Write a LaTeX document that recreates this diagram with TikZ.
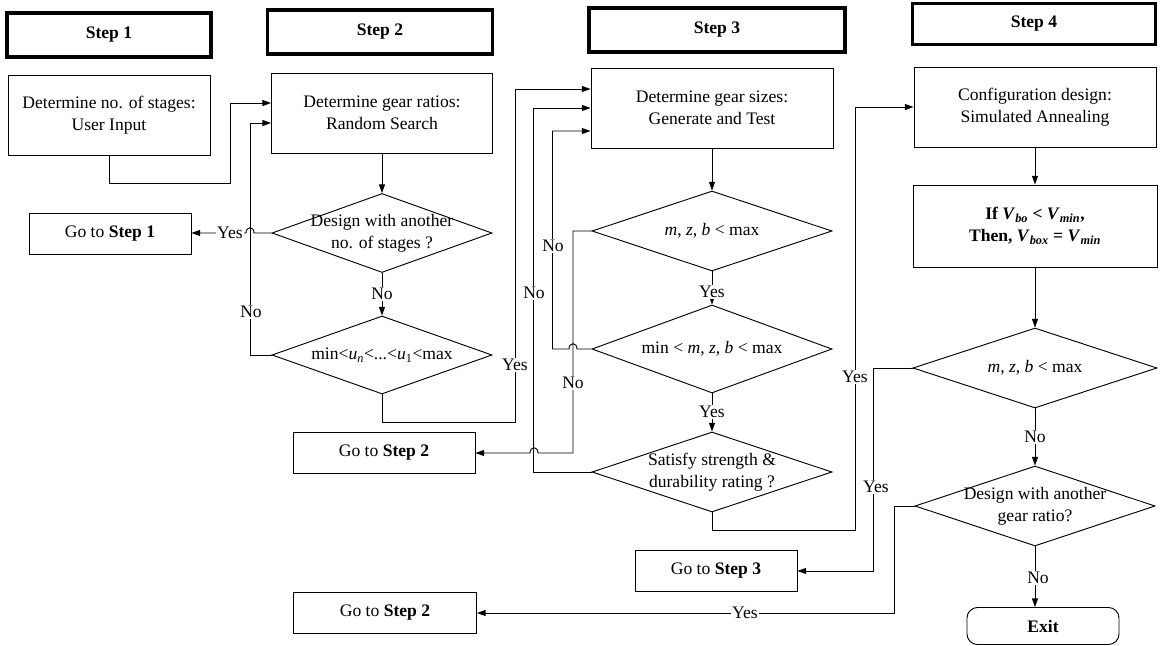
\documentclass[tikz,border=0pt]{standalone}
\usepackage{fontspec}
\setmainfont{Liberation Serif}
\usetikzlibrary{shapes.geometric,arrows.meta,calc}
\begin{document}
\begin{tikzpicture}[x=0.03cm, y=-0.03cm, font=\fontsize{15}{19}\selectfont,
  stepbox/.style={draw, line width=3pt, minimum height=1.33cm, font=\fontsize{15}{19}\selectfont\bfseries},
  procbox/.style={draw, line width=0.8pt, minimum height=2.4cm, align=center},
  gotobox/.style={draw, line width=0.8pt, minimum height=1.23cm},
  decision/.style={diamond, draw, line width=0.8pt, aspect=3, inner xsep=-2cm, inner ysep=0pt, align=center},
  lbl/.style={fill=white, inner sep=1pt},
  arr/.style={line width=0.8pt, -{Triangle[length=2.6mm,width=1.8mm]}}]
\useasboundingbox (0,0) rectangle (1163,646);
% headers
\node[stepbox, minimum width=6.12cm] (s1) at (109,35) {Step 1};
\node[stepbox, minimum width=6.75cm] (s2) at (380,32) {Step 2};
\node[stepbox, minimum width=7.68cm] (s3) at (717,30) {Step 3};
\node[stepbox, minimum width=7.29cm, minimum height=1.23cm] (s4) at (1034,24) {Step 4};
% step 1
\node[procbox, minimum width=6.06cm] (b1) at (109,115) {Determine no. of stages:\\User Input};
\node[gotobox, minimum width=4.86cm] (g1) at (110,234) {Go to \textbf{Step 1}};
% step 2
\node[procbox, minimum width=6.63cm] (b2) at (382,113) {Determine gear ratios:\\Random Search};
\node[decision, minimum width=6.6cm, minimum height=2.37cm] (d1) at (382,233) {Design with another\\no. of stages ?};
\node[decision, minimum width=6.6cm, minimum height=2.34cm] (d2) at (382,355) {min<\textit{u}\textsubscript{\textit{n}}<...<\textit{u}\textsubscript{1}<max};
\node[gotobox, minimum width=5.46cm] (g2) at (384,453) {Go to \textbf{Step 2}};
% step 3
\node[procbox, minimum width=7.26cm] (b3) at (712,108) {Determine gear sizes:\\Generate and Test};
\node[decision, minimum width=7.2cm, minimum height=2.4cm] (d3) at (712,231) {\textit{m}, \textit{z}, \textit{b} < max};
\node[decision, minimum width=7.2cm, minimum height=2.64cm] (d4) at (712,349) {min < \textit{m}, \textit{z}, \textit{b} < max};
\node[decision, minimum width=7.2cm, minimum height=2.4cm] (d5) at (712,472) {Satisfy strength \&\\durability rating ?};
\node[gotobox, minimum width=4.86cm] (g3) at (716,571) {Go to \textbf{Step 3}};
\node[gotobox, minimum width=5.49cm] (g4) at (385,613) {Go to \textbf{Step 2}};
% step 4
\node[procbox, minimum width=7.26cm] (b4) at (1035,107) {Configuration design:\\Simulated Annealing};
\node[procbox, minimum width=7.32cm, minimum height=2.46cm, font=\fontsize{15}{19}\selectfont\bfseries] (b5) at (1035,226)
  {If \textit{V}\textsubscript{\textit{bo}} < \textit{V}\textsubscript{\textit{min}},\\Then, \textit{V}\textsubscript{\textit{box}} = \textit{V}\textsubscript{\textit{min}}};
\node[decision, minimum width=7.32cm, minimum height=2.4cm] (d6) at (1035,368) {\textit{m}, \textit{z}, \textit{b} < max};
\node[decision, minimum width=7.2cm, minimum height=2.4cm] (d7) at (1035,506) {Design with another\\gear ratio?};
\node[draw, line width=0.8pt, rounded corners=9pt, minimum width=4.56cm, minimum height=1.11cm, font=\fontsize{15}{19}\selectfont\bfseries] (ex) at (1043,626) {Exit};
% connectors
\draw[arr] (b1.south) |- (230,183) |- ($(b2.west)+(0,-10)$);
\draw[arr] (b2.south) -- (d1.north);
\draw[arr] (d1.west) -- (254,233) .. controls (254,226) and (246,226) .. (246,233) -- (d1.west -| g1.east);
\draw[arr] (d1.south) -- (d2.north);
\draw[arr] (d2.west) -| ($(b2.west)+(-21,10)$) -- ($(b2.west)+(0,10)$);
\draw[arr] (d2.south) |- (515,422) |- ($(b3.west)+(0,-19)$);
\draw[arr] (b3.south) -- (d3.north);
\draw[arr] (d3.south) -- (d4.north);
\draw[arr] (d4.south) -- (d5.north);
\draw[arr] (d3.west) -| (573,453) -- (538,453) .. controls (538,446) and (530,446) .. (530,453) -- (g2.east);
\draw[arr] (d4.west) -- (577,349) .. controls (577,342) and (569,342) .. (569,349) -| ($(b3.west)+(-38,23)$) -- ($(b3.west)+(0,23)$);
\draw[arr] (d5.west) -| ($(b3.west)+(-57,0)$) -- (b3.west);
\draw[arr] (d5.south) |- (855,530) |- (b4.west);
\draw[arr] (b4.south) -- (b5.north);
\draw[arr] (b5.south) -- (d6.north);
\draw[arr] (d6.south) -- (d7.north);
\draw[arr] (d7.south) -- (d7.south |- ex.north);
\draw[arr] (d6.west) -- ++(-39,0) |- (g3.east);
\draw[arr] (d7.west) -- ++(-20,0) |- (g4.east);
% labels
\node[lbl] (y1) at (230,233) {Yes};
\node[lbl] (n1) at (251,312) {No};
\node[lbl] (n2) at (382,294) {No};
\node[lbl] (y2) at (515,365) {Yes};
\node[lbl] (n3) at (553,246) {No};
\node[lbl] (n4) at (534,293) {No};
\node[lbl] (y3) at (712,292) {Yes};
\node[lbl] (n5) at (573,383) {No};
\node[lbl] (y4) at (712,412) {Yes};
\node[lbl] (y5) at (855,377) {Yes};
\node[lbl] (y6) at (876,487) {Yes};
\node[lbl] (n6) at (1035,437) {No};
\node[lbl] (n7) at (1038,578) {No};
\node[lbl] (y7) at (745,613) {Yes};
\end{tikzpicture}
\end{document}
